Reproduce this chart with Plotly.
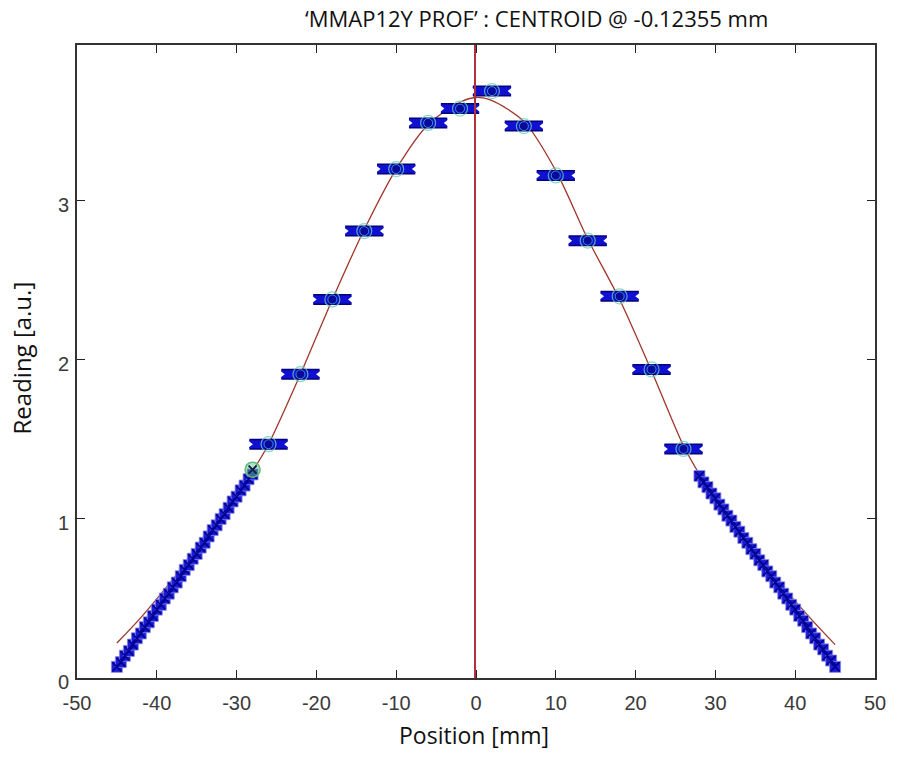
import plotly.graph_objects as go

# Profile scan: binned readings (centre positions, mean reading)
bin_pos = [-26, -22, -18, -14, -10, -6, -2, 2, 6, 10, 14, 18, 22, 26]
bin_val = [1.47, 1.91, 2.38, 2.81, 3.20, 3.49, 3.58, 3.69, 3.47, 3.16, 2.75, 2.40, 1.94, 1.44]
bin_halfwidth = 2.4

# Fine-step readings on the two flanks
left_pos = [-45, -44.5, -44, -43.5, -43, -42.5, -42, -41.5, -41, -40.5, -40, -39.5, -39,
            -38.5, -38, -37.5, -37, -36.5, -36, -35.5, -35, -34.5, -34, -33.5, -33, -32.5,
            -32, -31.5, -31, -30.5, -30, -29.5, -29, -28.5, -28]
left_val = [0.07, 0.10, 0.14, 0.17, 0.21, 0.25, 0.28, 0.32, 0.35, 0.39, 0.43, 0.46, 0.50,
            0.53, 0.57, 0.60, 0.64, 0.68, 0.71, 0.75, 0.78, 0.82, 0.85, 0.89, 0.93, 0.96,
            1.00, 1.03, 1.07, 1.11, 1.14, 1.18, 1.21, 1.25, 1.28]
right_pos = [28, 28.5, 29, 29.5, 30, 30.5, 31, 31.5, 32, 32.5, 33, 33.5, 34, 34.5, 35, 35.5,
             36, 36.5, 37, 37.5, 38, 38.5, 39, 39.5, 40, 40.5, 41, 41.5, 42, 42.5, 43, 43.5,
             44, 44.5, 45]
right_val = [1.27, 1.23, 1.20, 1.16, 1.13, 1.09, 1.06, 1.02, 0.99, 0.95, 0.92, 0.88, 0.85,
             0.81, 0.78, 0.74, 0.71, 0.67, 0.64, 0.60, 0.57, 0.53, 0.50, 0.46, 0.43, 0.39,
             0.36, 0.32, 0.28, 0.25, 0.21, 0.18, 0.14, 0.11, 0.07]

# Joint point between flank and binned data
join_pos = [-28]
join_val = [1.31]

# Fitted profile
fit_pos = [-45, -42, -38, -34, -30, -28, -26, -22, -18, -14, -10, -6, -2, 0, 2, 6, 10,
           14, 18, 22, 26, 28, 30, 34, 38, 42, 45]
fit_val = [0.22, 0.38, 0.62, 0.88, 1.15, 1.30, 1.47, 1.91, 2.38, 2.82, 3.20, 3.48, 3.62,
           3.65, 3.63, 3.50, 3.19, 2.76, 2.38, 1.93, 1.46, 1.28, 1.12, 0.85, 0.60, 0.37, 0.21]

CENTROID = -0.12355
x_ticks = [-50, -40, -30, -20, -10, 0, 10, 20, 30, 40, 50]
y_ticks = [0, 1, 2, 3]

fig = go.Figure()

# fitted curve (drawn first so the markers sit on top)
fig.add_trace(go.Scatter(
    x=fit_pos, y=fit_val, mode="lines",
    line=dict(color="#a0362a", width=1.3, shape="spline", smoothing=0.8),
    hoverinfo="skip", showlegend=False))

# flank readings: filled squares with crosses on top
for px, pv in ((left_pos, left_val), (right_pos, right_val)):
    fig.add_trace(go.Scatter(
        x=px, y=pv, mode="markers",
        marker=dict(symbol="square", size=11, color="#1c1cd4",
                    line=dict(color="#8a8ae6", width=0.8)),
        hoverinfo="skip", showlegend=False))
    fig.add_trace(go.Scatter(
        x=px, y=pv, mode="markers",
        marker=dict(symbol="x-thin-open", size=9, color="#000090",
                    line=dict(color="#000090", width=1.5)),
        hoverinfo="skip", showlegend=False))

# binned readings drawn as ribbons (bar with notched ends)
fig.add_trace(go.Scatter(
    x=bin_pos, y=bin_val, mode="markers", marker=dict(size=1, color="rgba(0,0,0,0)"),
    error_x=dict(type="constant", value=bin_halfwidth, thickness=11, width=0, color="#00007a"),
    hoverinfo="skip", showlegend=False))
fig.add_trace(go.Scatter(
    x=bin_pos, y=bin_val, mode="markers", marker=dict(size=1, color="rgba(0,0,0,0)"),
    error_x=dict(type="constant", value=bin_halfwidth, thickness=8, width=0, color="#1010d0"),
    hoverinfo="skip", showlegend=False))
fig.add_trace(go.Scatter(
    x=[p - bin_halfwidth for p in bin_pos], y=bin_val, mode="markers",
    marker=dict(symbol="triangle-right", size=7, color="white"),
    hoverinfo="skip", showlegend=False))
fig.add_trace(go.Scatter(
    x=[p + bin_halfwidth for p in bin_pos], y=bin_val, mode="markers",
    marker=dict(symbol="triangle-left", size=7, color="white"),
    hoverinfo="skip", showlegend=False))
fig.add_trace(go.Scatter(
    x=bin_pos, y=bin_val, mode="markers",
    marker=dict(symbol="circle", size=9, color="#08089a",
                line=dict(color="#3f8fc8", width=1)),
    hoverinfo="skip", showlegend=False))
fig.add_trace(go.Scatter(
    x=bin_pos, y=bin_val, mode="markers",
    marker=dict(symbol="circle-open", size=15, color="rgba(110,205,190,0.8)",
                line=dict(color="rgba(110,205,190,0.8)", width=1.2)),
    hoverinfo="skip", showlegend=False))

# joint point
fig.add_trace(go.Scatter(
    x=join_pos, y=join_val, mode="markers",
    marker=dict(symbol="circle", size=15, color="rgba(110,200,140,0.5)",
                line=dict(color="#5cbf7a", width=1.5)),
    hoverinfo="skip", showlegend=False))
fig.add_trace(go.Scatter(
    x=join_pos, y=join_val, mode="markers",
    marker=dict(symbol="x-thin-open", size=8, color="#102040",
                line=dict(color="#102040", width=2)),
    hoverinfo="skip", showlegend=False))

# centroid marker line
fig.add_shape(type="line", x0=CENTROID, x1=CENTROID, y0=0, y1=1, yref="paper",
              line=dict(color="#b0303c", width=2))

tick_font = dict(family="Liberation Sans, Arial, sans-serif", size=20, color="#3a3a3a")
axis_common = dict(showgrid=False, zeroline=False, showline=True, mirror="ticks",
                   linecolor="#333333", linewidth=1.8, ticks="inside", ticklen=8,
                   tickwidth=1.2, tickcolor="#222222", tickfont=tick_font)

fig.update_xaxes(range=[-50, 50], tickvals=x_ticks, ticktext=[str(v) for v in x_ticks],
                 ticklabelstandoff=6, **axis_common)
fig.update_yaxes(range=[0, 3.98], tickvals=y_ticks, ticktext=[str(v) for v in y_ticks],
                 ticklabelstandoff=2, ticklabelshift=4, **axis_common)

label_font = dict(family="Open Sans, sans-serif", color="#111111")
fig.update_layout(
    width=898, height=758,
    margin=dict(l=77, r=17, t=45, b=80),
    paper_bgcolor="white", plot_bgcolor="white",
    annotations=[
        dict(text="‘MMAP12Y PROF’ : CENTROID @ -0.12355 mm", xref="paper", yref="paper",
             x=0.576, y=1.043, xanchor="center", yanchor="middle", showarrow=False,
             font=dict(size=22, **label_font)),
        dict(text="Position [mm]", xref="paper", yref="paper", x=0.498, y=-0.09,
             xanchor="center", yanchor="middle", showarrow=False,
             font=dict(size=23, **label_font)),
        dict(text="Reading [a.u.]", xref="paper", yref="paper", x=-0.07, y=0.505,
             xanchor="center", yanchor="middle", showarrow=False, textangle=-90,
             font=dict(size=24, **label_font)),
    ],
)

fig.write_html("out.html")
